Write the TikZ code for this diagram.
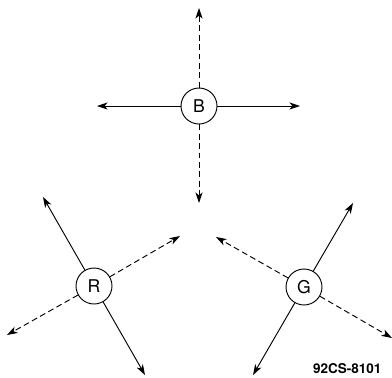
\documentclass[tikz,border=0pt]{standalone}
\usepackage{fontspec}
\setsansfont{TeX Gyre Heros}
\usetikzlibrary{arrows.meta}
\tikzset{
  gun/.style={draw,thick,circle,minimum size=10.8mm,inner sep=0pt,font=\sffamily\fontsize{15}{15}\selectfont},
  beam/.style={thick,->},
  ray/.style={thick,->,dash pattern=on 5pt off 3pt}
}
\begin{document}
\begin{tikzpicture}[x=0.3mm,y=-0.3mm,>={Stealth[length=9pt,width=6pt,inset=2.5pt]}]
        \useasboundingbox (0,0) rectangle (392,377);

        % Guns
        \node[gun] (B) at (199,106) {B};
        \node[gun] (R) at (94,286) {R};
        \node[gun] (G) at (304,287) {G};

        % Arrow ends
        \coordinate (bu) at (199,8);
        \coordinate (bd) at (199,203);
        \coordinate (bl) at (97,106);
        \coordinate (br) at (300,106);
        \coordinate (rul) at (43,197);
        \coordinate (rdr) at (145,375);
        \coordinate (rur) at (180,236);
        \coordinate (rdl) at (7,335);
        \coordinate (gur) at (353,203);
        \coordinate (gdl) at (253,375);
        \coordinate (gul) at (216,237);
        \coordinate (gdr) at (392,338);

        % Blue
        \draw[ray] (B) -- (bu);
        \draw[ray] (B) -- (bd);
        \draw[beam] (B) -- (bl);
        \draw[beam] (B) -- (br);

        % Red
        \draw[beam] (R) -- (rul);
        \draw[beam] (R) -- (rdr);
        \draw[ray] (R) -- (rur);
        \draw[ray] (R) -- (rdl);

        % Green
        \draw[beam] (G) -- (gur);
        \draw[beam] (G) -- (gdl);
        \draw[ray] (G) -- (gul);
        \draw[ray] (G) -- (gdr);

        % Figure number
        \node[anchor=west,inner sep=0pt,font=\sffamily\bfseries\fontsize{11.5}{12}\selectfont] (num) at (313,369) {92CS-8101};
    \end{tikzpicture}
\end{document}
